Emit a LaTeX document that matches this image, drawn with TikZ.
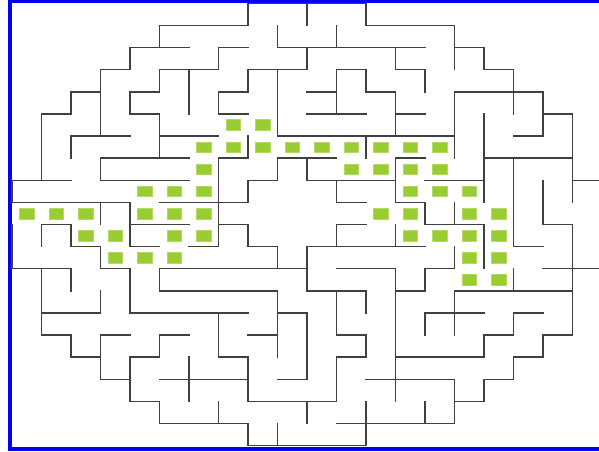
\documentclass[tikz,border=0pt]{standalone}
\definecolor{sqgreen}{HTML}{9ACD32}
\definecolor{wallc}{HTML}{404040}
\definecolor{frameblue}{HTML}{0000F0}
\begin{document}
\begin{tikzpicture}[x=0.75pt,y=-0.75pt,
  wall/.style={draw=wallc, line width=1.05pt, line cap=rect},
  sq/.style={fill=sqgreen, draw=sqgreen!75, line width=0.4pt, minimum width=11pt, minimum height=8pt, inner sep=0pt, outer sep=0pt}]
\useasboundingbox (0,0) rectangle (599,452);
\fill[white] (0,0) rectangle (599,452);
% blue frame (left, top, bottom)
\fill[frameblue] (8.3,0) rectangle (12.3,451);
\fill[frameblue] (8.3,0) rectangle (599,3);
\fill[frameblue] (8.3,446.6) rectangle (599,451);
\begin{scope}[shift={(9pt,-2.625pt)}, x=22.125pt, y=-16.575pt]
% horizontal walls: row / from column / to column
\foreach \r/\a/\b in {
  0/8/12,
  1/5/8, 1/12/15,
  2/4/6, 2/7/8, 2/9/14, 2/15/16,
  3/3/4, 3/5/7, 3/8/10, 3/11/12, 3/13/14, 3/16/17,
  4/2/3, 4/4/5, 4/7/8, 4/10/11, 4/12/13, 4/15/18,
  5/1/2, 5/4/5, 5/7/8, 5/10/12, 5/13/14, 5/18/19,
  6/2/4, 6/5/7, 6/9/15, 6/17/18,
  7/3/6, 7/7/8, 7/9/11, 7/13/14, 7/16/19,
  8/0/2, 8/3/6, 8/8/9, 8/10/13, 8/14/16, 8/19/20,
  9/0/4, 9/5/8, 9/11/12, 9/13/14,
  10/1/2, 10/4/6, 10/7/8, 10/11/12, 10/14/16, 10/18/19,
  11/2/3, 11/4/5, 11/6/7, 11/8/9, 11/10/14, 11/17/18,
  12/0/2, 12/3/4, 12/5/10, 12/11/13, 12/14/15, 12/18/20,
  13/5/9, 13/10/12, 13/13/14, 13/15/19,
  14/1/3, 14/4/8, 14/9/10, 14/14/16, 14/17/18,
  15/1/2, 15/3/4, 15/5/6, 15/8/9, 15/11/12, 15/16/17, 15/18/19,
  16/2/3, 16/4/5, 16/7/8, 16/11/12, 16/13/16, 16/17/18,
  17/3/4, 17/5/8, 17/9/10, 17/12/15, 17/16/17,
  18/4/5, 18/8/11, 18/15/16,
  19/5/8, 19/11/15,
  20/8/12}
  \draw[wall] (\a,\r) -- (\b,\r);
% vertical walls: column / from row / to row
\foreach \c/\a/\b in {
  0/8/9, 0/10/12,
  1/5/8, 1/10/11, 1/12/15,
  2/4/5, 2/6/7, 2/10/11, 2/12/13, 2/15/16,
  3/3/6, 3/7/8, 3/9/10, 3/11/12, 3/13/14, 3/15/17,
  4/2/3, 4/4/5, 4/9/11, 4/12/14, 4/16/18,
  5/1/2, 5/3/4, 5/5/7, 5/12/13, 5/15/16, 5/18/19,
  6/3/5, 6/16/18,
  7/2/3, 7/4/5, 7/7/11, 7/14/16, 7/18/19,
  8/0/1, 8/3/4, 8/6/7, 8/8/9, 8/10/11, 8/16/18, 8/19/20,
  9/1/2, 9/3/6, 9/7/8, 9/11/12, 9/13/16, 9/19/20,
  10/0/1, 10/2/3, 10/7/8, 10/11/13, 10/14/17, 10/18/19,
  11/1/2, 11/3/5, 11/8/9, 11/10/11, 11/13/15, 11/16/18,
  12/0/1, 12/3/4, 12/6/7, 12/13/14, 12/15/16, 12/18/20,
  13/2/3, 13/4/6, 13/7/9, 13/10/11, 13/12/18,
  14/3/4, 14/9/10, 14/12/13, 14/14/15, 14/18/19,
  15/1/3, 15/4/7, 15/9/10, 15/11/12, 15/13/15, 15/17/19,
  16/2/3, 16/5/9, 16/10/12, 16/15/16, 16/17/18,
  17/3/5, 17/7/11, 17/12/13, 17/14/15, 17/16/17,
  18/4/6, 18/8/10, 18/15/16,
  19/5/9, 19/10/15}
  \draw[wall] (\c,\a) -- (\c,\b);
% green marked cells: column / row
\foreach \c/\r in {
  7/5, 8/5,
  6/6, 7/6, 8/6, 9/6, 10/6, 11/6, 12/6, 13/6, 14/6,
  6/7, 11/7, 12/7, 13/7, 14/7,
  4/8, 5/8, 6/8, 13/8, 14/8, 15/8,
  0/9, 1/9, 2/9, 4/9, 5/9, 6/9, 12/9, 13/9, 15/9, 16/9,
  2/10, 3/10, 5/10, 6/10, 13/10, 14/10, 15/10, 16/10,
  3/11, 4/11, 5/11, 15/11, 16/11,
  15/12, 16/12}
  \node[sq] (s-\c-\r) at (\c+0.5,\r+0.5) {};
\end{scope}
\end{tikzpicture}
\end{document}
